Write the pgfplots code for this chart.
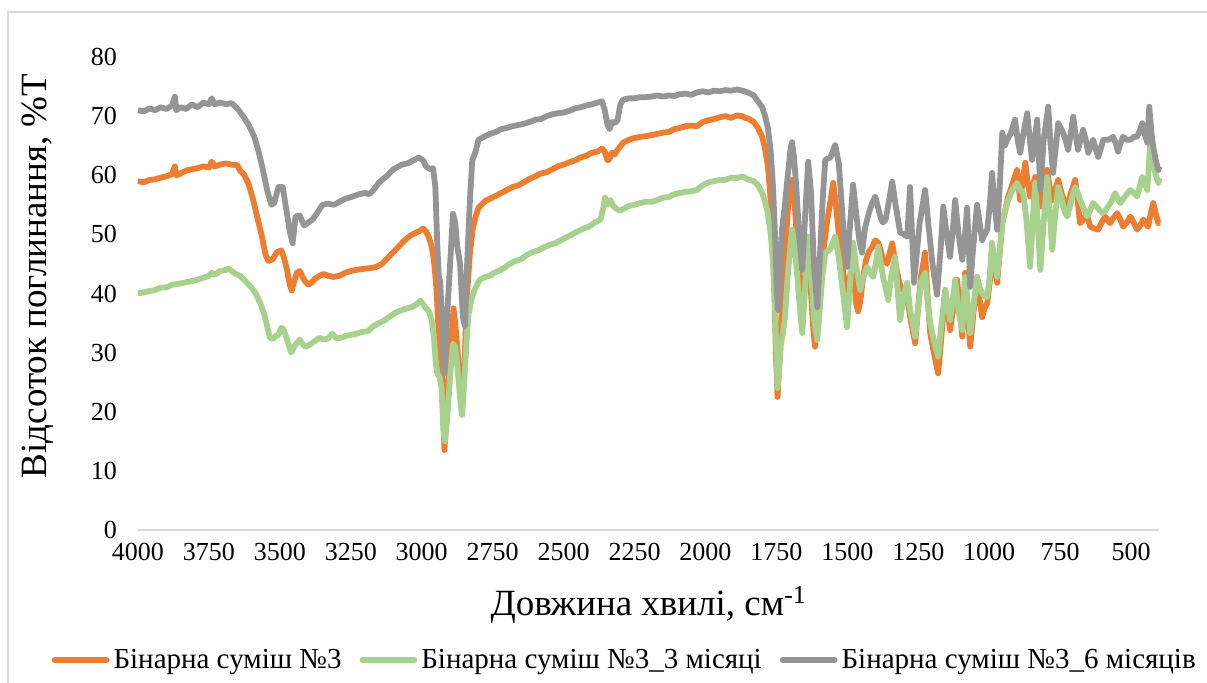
\documentclass[border=0pt]{standalone}
\usepackage{fontspec}
\setmainfont{Liberation Serif}
\usepackage{pgfplots}
\pgfplotsset{compat=1.18}
\definecolor{corange}{HTML}{ED7D31}
\definecolor{cgreen}{HTML}{A9D18E}
\definecolor{cgray}{HTML}{959595}
\definecolor{cline}{HTML}{D9D9D9}
\begin{document}
\begin{tikzpicture}
\path[use as bounding box] (-69pt,-76.5pt) rectangle (534.5pt,265pt);
\draw[cline, line width=1pt] (-65pt,-80pt) -- (-65pt,259pt) -- (540pt,259pt);
\begin{axis}[
  at={(0pt,0pt)}, anchor=south west,
  scale only axis, width=510.75pt, height=236.5pt,
  x dir=reverse, xmin=400, xmax=4000, ymin=0, ymax=80,
  xtick={500,750,...,4000}, ytick={0,10,...,80},
  axis line style={draw=none}, major tick length=0pt, tick style={draw=none},
  /pgf/number format/1000 sep={}, /pgf/number format/assume math mode=true,
  ticklabel style={font=\fontsize{13}{15}\selectfont},
  yticklabel style={xshift=-7pt},
  xticklabel style={yshift=-3pt},
  xlabel={Довжина хвилі, см\textsuperscript{-1}},
  ylabel={Відсоток поглинання, \%Т},
  xlabel style={font=\fontsize{18.5}{20}\selectfont, at={(axis description cs:0.5,-0.1586)}, anchor=center},
  ylabel style={font=\fontsize{18.5}{20}\selectfont, at={(axis description cs:-0.098,0.537)}, anchor=center, rotate=0},
  legend style={at={(axis description cs:0.4775,-0.2748)}, anchor=center, draw=none, fill=none,
    font=\fontsize{14.5}{17}\selectfont, /tikz/every even column/.append style={column sep=7pt},
    legend cell align=left},
  legend columns=3,
  legend image code/.code={\draw[line width=2.9pt, line cap=round] (0pt,0pt) -- (26pt,0pt);},
  every axis plot/.append style={line width=2.9pt, line join=round, no markers},
  clip=false,
]
\draw[cline, line width=1pt] (axis cs:4000,0) -- (axis cs:400,0);
\addplot[corange] table {
4000 59.0
3980 58.8
3960 59.2
3940 59.3
3920 59.6
3900 59.8
3880 60.2
3870 61.5
3865 60.0
3850 60.3
3830 60.8
3810 61.0
3790 61.2
3770 61.5
3750 61.3
3740 62.3
3730 61.5
3710 61.8
3690 62.0
3670 61.8
3650 61.7
3640 60.8
3625 60.0
3610 58.5
3595 56.0
3580 53.0
3565 50.0
3550 46.5
3540 45.5
3525 45.8
3510 47.0
3495 47.3
3485 46.0
3475 44.0
3465 41.5
3458 40.5
3450 42.0
3440 43.5
3430 43.8
3420 42.8
3410 42.0
3400 41.5
3390 41.8
3375 42.5
3360 43.0
3345 43.3
3330 43.0
3310 42.8
3290 43.0
3270 43.5
3250 43.8
3230 44.0
3200 44.2
3180 44.3
3160 44.5
3140 45.0
3120 46.0
3100 47.0
3080 48.0
3060 49.0
3040 49.8
3020 50.3
3010 50.5
2995 51.0
2985 50.5
2975 49.5
2965 48.0
2958 46.0
2950 42.0
2945 38.0
2940 33.0
2932 29.0
2928 27.0
2920 13.5
2912 20.0
2902 28.0
2893 34.0
2888 37.5
2882 35.0
2875 31.0
2866 25.0
2858 19.5
2848 30.0
2840 40.0
2830 47.0
2820 51.0
2810 53.0
2800 54.5
2790 55.0
2775 55.7
2760 56.0
2740 56.5
2720 57.0
2700 57.5
2680 58.0
2660 58.3
2640 58.8
2620 59.4
2600 59.8
2580 60.3
2560 60.5
2540 61.0
2520 61.5
2500 61.8
2480 62.2
2460 62.5
2440 63.0
2420 63.3
2400 63.8
2380 64.0
2365 64.5
2355 64.0
2345 62.5
2338 62.8
2330 63.8
2320 63.5
2310 64.3
2290 65.5
2270 66.0
2250 66.3
2230 66.5
2210 66.6
2190 66.8
2170 67.0
2150 67.2
2130 67.3
2110 67.8
2090 68.0
2070 68.3
2050 68.4
2030 68.3
2010 69.0
1990 69.3
1970 69.5
1950 69.8
1930 70.0
1910 69.7
1890 70.1
1870 70.0
1860 69.7
1850 69.6
1830 69.0
1815 68.0
1800 66.5
1790 64.5
1780 61.5
1772 57.0
1765 50.0
1758 42.0
1752 30.0
1746 22.5
1740 28.0
1735 34.0
1728 40.0
1720 47.0
1710 54.0
1700 58.0
1695 59.2
1688 57.0
1680 51.0
1670 43.0
1662 38.0
1655 40.0
1645 45.0
1638 44.5
1628 40.0
1620 34.0
1614 31.0
1606 38.0
1595 45.0
1585 47.0
1572 52.0
1560 55.5
1550 58.7
1540 55.0
1530 50.0
1520 46.0
1510 42.0
1500 40.5
1490 43.0
1480 45.5
1470 38.5
1462 37.0
1455 38.5
1445 42.5
1435 45.5
1425 47.0
1410 48.0
1402 49.0
1390 48.5
1375 46.0
1360 45.0
1350 47.0
1342 48.5
1330 45.0
1318 42.0
1307 40.6
1295 41.0
1285 38.0
1275 35.0
1261 31.6
1250 38.0
1240 43.0
1226 46.9
1218 40.0
1208 33.3
1195 30.0
1180 26.5
1168 33.0
1155 40.6
1146 37.0
1138 33.8
1125 38.0
1113 42.3
1103 37.0
1095 32.7
1085 43.5
1076 37.0
1067 31.0
1055 37.0
1043 42.8
1034 39.0
1025 36.0
1016 37.5
1007 38.4
998 42.0
990 47.4
981 44.0
972 41.8
963 47.0
954 51.9
944 54.0
933 56.4
918 58.5
902 60.9
896 58.0
891 55.8
882 59.0
873 62.1
865 59.0
856 56.4
847 58.0
838 59.7
829 57.0
820 54.7
808 58.0
796 60.9
787 58.0
778 55.8
768 57.5
757 59.2
745 57.0
735 55.5
725 54.7
712 57.0
697 59.2
688 55.5
680 51.9
668 52.5
655 53.6
650 52.3
644 51.3
630 51.0
616 50.8
604 52.0
591 53.0
583 52.5
574 51.9
562 52.8
549 53.6
538 52.5
528 51.3
515 52.0
503 53.0
491 52.0
479 50.8
468 51.5
457 52.5
448 51.8
440 51.3
431 53.5
422 55.3
413 53.5
404 51.9
400 52.0
};
\addlegendentry{Бінарна суміш №3}
\addplot[cgreen] table {
4000 40.0
3980 40.2
3960 40.4
3940 40.6
3920 41.0
3900 41.0
3880 41.5
3860 41.6
3840 41.8
3820 42.0
3800 42.2
3780 42.5
3760 42.8
3750 43.0
3740 43.5
3730 43.2
3710 43.8
3690 44.0
3680 44.2
3670 43.8
3655 43.3
3640 43.0
3620 42.0
3600 41.0
3585 40.0
3570 38.5
3555 36.5
3545 34.5
3535 32.5
3525 32.3
3515 32.8
3505 33.0
3495 34.2
3488 34.0
3480 33.0
3470 31.5
3460 30.0
3450 31.0
3440 31.6
3430 32.2
3420 31.5
3410 31.0
3400 31.2
3390 31.5
3375 32.0
3360 32.5
3345 32.2
3330 32.4
3315 33.2
3300 32.4
3285 32.5
3270 32.8
3250 33.0
3230 33.2
3210 33.5
3190 33.6
3170 34.5
3150 35.0
3130 35.5
3110 36.2
3090 36.8
3070 37.2
3050 37.5
3030 37.8
3015 38.3
3005 38.8
2995 38.2
2985 37.5
2975 37.0
2965 35.5
2958 33.0
2950 28.0
2945 26.5
2938 26.0
2930 24.0
2924 17.0
2918 15.0
2910 19.0
2900 26.0
2890 31.5
2882 31.0
2875 28.0
2866 23.0
2858 19.5
2850 25.0
2842 32.0
2835 36.5
2825 39.0
2815 40.5
2800 42.0
2790 42.5
2775 42.8
2760 43.0
2745 43.5
2730 43.8
2710 44.3
2690 45.0
2670 45.5
2650 45.8
2630 46.5
2610 47.0
2590 47.3
2570 47.8
2550 48.2
2530 48.5
2510 49.0
2490 49.5
2470 50.0
2450 50.5
2430 51.0
2410 51.3
2390 52.0
2370 52.5
2360 54.5
2354 56.2
2347 55.0
2342 55.5
2335 55.8
2325 54.8
2310 54.2
2300 54.0
2290 54.3
2270 54.8
2250 55.0
2230 55.3
2210 55.5
2190 55.5
2170 55.8
2150 56.2
2130 56.3
2110 56.8
2090 57.0
2070 57.2
2050 57.3
2030 57.5
2010 58.3
1990 58.8
1970 59.0
1950 59.2
1930 59.2
1910 59.6
1890 59.5
1870 59.8
1850 59.3
1830 59.0
1815 58.3
1800 57.0
1790 55.5
1780 53.5
1770 50.0
1762 45.0
1755 38.0
1750 30.0
1746 24.0
1740 27.0
1734 31.5
1728 33.0
1720 36.0
1710 43.0
1700 48.5
1695 50.8
1688 49.0
1680 45.0
1670 39.0
1659 33.3
1650 40.0
1638 49.6
1628 44.0
1618 36.0
1606 32.1
1596 38.0
1588 43.0
1578 46.9
1560 47.5
1543 49.6
1530 46.0
1515 40.0
1501 34.3
1490 42.0
1480 48.6
1470 45.0
1455 40.6
1442 43.0
1430 44.5
1420 43.5
1409 42.8
1400 45.0
1391 47.9
1375 43.0
1356 38.9
1345 43.0
1332 46.2
1322 40.0
1314 35.5
1300 40.0
1289 41.8
1279 37.2
1270 35.0
1261 32.7
1250 38.0
1240 42.0
1226 43.5
1218 39.0
1208 35.0
1195 32.0
1180 29.3
1168 35.0
1155 40.6
1146 38.0
1138 35.5
1128 39.0
1120 42.3
1108 37.0
1095 33.8
1085 42.8
1076 38.0
1067 33.3
1055 38.0
1043 42.8
1034 41.0
1025 40.1
1016 39.5
1007 39.4
998 43.0
990 48.6
981 45.0
972 42.8
963 47.0
954 51.9
944 54.0
933 55.8
918 57.5
902 58.7
891 57.5
880 57.0
868 52.0
856 44.5
847 52.0
838 58.7
829 52.0
820 44.0
808 52.0
796 59.7
787 54.0
778 47.4
768 53.0
757 58.0
745 56.0
735 54.0
725 53.0
712 55.5
697 58.0
688 57.0
680 55.8
668 54.5
655 53.0
645 54.0
634 55.3
618 54.5
602 53.6
591 54.0
581 54.7
570 55.5
556 57.0
547 56.0
538 55.3
520 56.5
503 57.5
490 57.0
479 56.4
470 58.0
461 59.7
452 58.5
443 57.5
437 62.0
432 66.0
425 63.0
415 60.4
404 58.7
400 59.5
};
\addlegendentry{Бінарна суміш №3\_3 місяці}
\addplot[cgray] table {
4000 71.0
3980 70.8
3960 71.3
3940 71.0
3920 71.5
3900 71.2
3880 71.8
3870 73.3
3865 71.0
3850 71.5
3830 71.2
3810 72.0
3790 71.5
3770 72.3
3750 72.0
3740 73.0
3730 72.0
3710 72.3
3690 72.0
3670 72.2
3650 71.3
3630 70.0
3610 68.5
3590 66.5
3575 64.0
3560 61.0
3545 57.5
3530 55.0
3520 55.3
3505 58.0
3490 58.0
3480 55.0
3465 50.5
3455 48.5
3445 53.0
3430 53.2
3415 51.5
3400 52.0
3385 52.5
3370 53.5
3350 55.0
3330 55.2
3310 55.0
3290 55.5
3270 56.0
3250 56.3
3220 56.8
3200 57.0
3185 56.8
3170 57.5
3150 58.8
3120 60.0
3100 61.0
3070 61.8
3050 62.0
3030 62.5
3010 63.0
2995 62.5
2985 61.5
2970 61.0
2960 61.2
2952 58.0
2945 48.0
2940 43.0
2935 42.0
2928 35.0
2921 26.5
2912 35.0
2900 45.0
2890 53.5
2882 52.0
2875 48.0
2865 45.0
2855 36.0
2848 34.5
2840 45.0
2830 56.0
2822 62.5
2810 64.0
2800 66.0
2780 66.5
2760 67.0
2740 67.3
2720 67.8
2700 68.0
2680 68.3
2660 68.5
2640 68.7
2620 69.0
2600 69.4
2580 69.5
2560 70.0
2540 70.3
2520 70.5
2500 70.6
2480 70.9
2460 71.3
2440 71.5
2420 71.8
2400 72.0
2380 72.3
2365 72.5
2355 71.0
2345 68.5
2338 67.8
2330 69.0
2320 68.8
2310 69.3
2300 72.0
2290 72.8
2270 73.0
2250 73.0
2230 73.2
2210 73.2
2190 73.3
2170 73.5
2150 73.3
2130 73.5
2110 73.4
2090 73.7
2070 73.8
2050 73.6
2030 74.0
2010 74.2
1990 74.0
1970 74.3
1950 74.2
1930 74.4
1910 74.3
1890 74.5
1870 74.3
1850 74.0
1830 73.5
1815 72.5
1800 71.5
1790 70.0
1780 68.0
1770 64.0
1762 58.0
1755 50.0
1748 40.0
1744 37.2
1738 44.0
1730 51.0
1720 55.0
1710 60.0
1700 64.5
1695 65.6
1688 63.0
1680 58.0
1670 50.0
1659 44.0
1650 52.0
1638 62.3
1628 57.0
1618 45.0
1606 37.7
1596 47.0
1588 55.0
1578 62.6
1560 63.0
1543 65.1
1530 62.0
1520 55.0
1510 48.0
1501 44.5
1490 52.0
1480 58.4
1470 54.0
1458 49.0
1448 46.9
1438 51.0
1425 53.5
1415 55.0
1402 56.4
1394 55.0
1384 53.0
1375 52.0
1365 52.5
1352 56.0
1342 58.9
1330 55.0
1314 50.3
1300 50.0
1289 49.6
1279 58.0
1272 50.0
1265 41.8
1255 47.0
1245 52.0
1235 55.0
1226 57.5
1215 52.0
1200 45.0
1184 39.8
1172 47.0
1162 54.7
1150 50.0
1138 46.2
1128 51.0
1120 55.8
1108 50.0
1095 45.7
1085 50.0
1078 54.5
1072 48.0
1067 41.1
1058 47.0
1043 55.0
1034 52.0
1025 49.0
1016 50.0
1007 50.8
998 55.0
990 60.4
981 55.0
972 50.8
963 58.0
954 67.2
945 65.0
937 66.0
925 67.0
909 69.4
900 66.0
891 63.8
880 67.0
866 70.5
857 66.0
849 62.6
840 66.0
831 69.4
825 63.0
820 57.5
808 66.0
792 71.6
785 66.0
775 60.4
765 65.0
757 68.8
748 68.0
740 67.2
731 66.0
722 64.3
713 67.0
704 69.9
696 67.0
687 64.3
678 66.0
669 67.7
660 66.0
651 63.8
642 65.0
634 66.0
625 64.5
616 63.1
607 64.5
598 66.0
580 66.0
563 66.5
555 65.5
546 64.0
537 65.5
528 66.5
515 66.0
503 66.0
490 66.5
479 66.5
470 67.5
461 68.8
452 67.0
443 65.5
436 71.6
428 67.0
422 64.8
413 62.5
404 60.9
400 61.5
};
\addlegendentry{Бінарна суміш №3\_6 місяців}
\end{axis}
\end{tikzpicture}
\end{document}
